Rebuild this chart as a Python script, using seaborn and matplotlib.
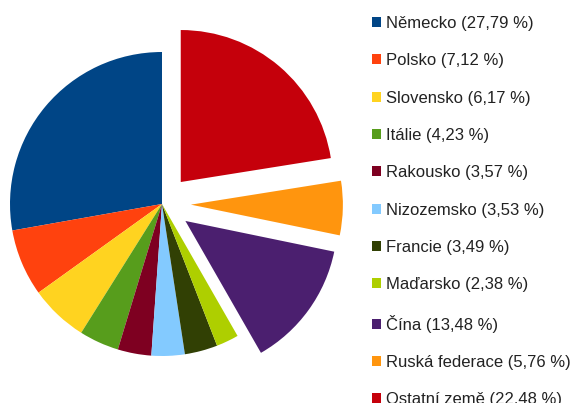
import matplotlib
matplotlib.use("Agg")
import matplotlib.pyplot as plt
import seaborn as sns

# share of Czech exports by country (%)
countries = ["Německo", "Polsko", "Slovensko", "Itálie", "Rakousko", "Nizozemsko",
             "Francie", "Maďarsko", "Čína", "Ruská federace", "Ostatní země"]
shares = [27.79, 7.12, 6.17, 4.23, 3.57, 3.53, 3.49, 2.38, 13.48, 5.76, 22.48]
colors = ["#004586", "#ff420e", "#ffd320", "#579d1c", "#7e0021", "#83caff",
          "#314004", "#aecf00", "#4b1f6f", "#ff950e", "#c5000b"]
exploded = ["Čína", "Ruská federace", "Ostatní země"]

sns.set_theme(style="white")
plt.rcParams["font.family"] = ["Liberation Sans", "DejaVu Sans"]

W, H, DPI = 574, 403, 100
fig = plt.figure(figsize=(W / DPI, H / DPI), dpi=DPI)

# pie centre ~ (162, 204) px from top-left, radius ~152 px
cx, cy, r = 162, 204, 152
ax_w = 340
ax = fig.add_axes([0, 0, ax_w / W, 1])
explode = [0.19 if c in exploded else 0 for c in countries]
wedges, _ = ax.pie(shares, colors=colors, startangle=90, counterclock=True,
                   explode=explode, wedgeprops=dict(linewidth=0))
ax.set_aspect("auto")
ax.set_xlim(-cx / r, (ax_w - cx) / r)
ax.set_ylim(-(H - cy) / r, cy / r)
ax.axis("off")

labels = [f"{c} ({s:.2f} %)".replace(".", ",") for c, s in zip(countries, shares)]
fig.legend(wedges, labels, loc="upper left", bbox_to_anchor=(372 / W, 1 - 16 / H),
           frameon=False, fontsize=12, handlelength=0.55, handleheight=0.55,
           handletextpad=0.3, labelspacing=1.34, borderpad=0, borderaxespad=0,
           labelcolor="#222222")

fig.savefig("out.png", dpi=DPI)
